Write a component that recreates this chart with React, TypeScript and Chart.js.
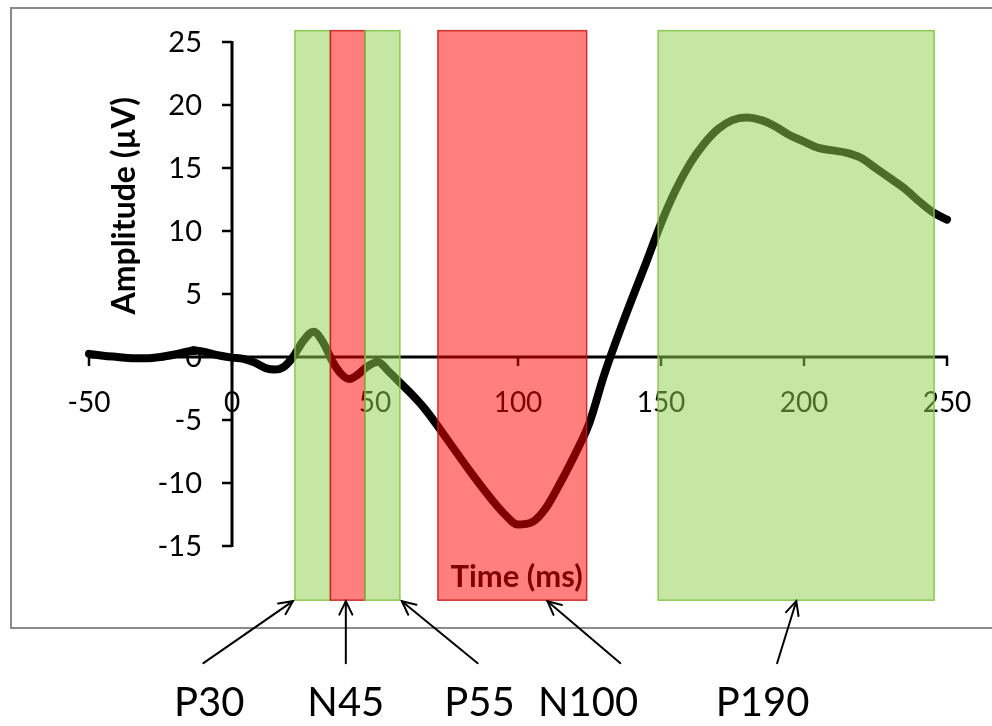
import React, { useEffect, useRef } from 'react';
import { Chart, registerables } from 'chart.js';

Chart.register(...registerables);

// ---- data ----
const timeMs = [
  -50, -45, -40, -35, -30, -25, -20, -15, -12, -8, -4, 0, 4, 8, 12, 15, 18, 21, 25, 28.5, 32, 35, 38, 41, 44, 47,
  51, 55, 59, 63, 67, 72, 77, 83, 89, 95, 100, 105, 110, 115, 120, 125, 130, 135, 140, 145, 150, 155, 160, 165,
  170, 175, 180, 185, 190, 195, 200, 205, 210, 215, 220, 225, 230, 235, 240, 245, 250,
];
const amplitudeUV = [
  0.25, 0.1, 0.0, -0.1, -0.1, 0.0, 0.2, 0.45, 0.5, 0.3, 0.1, -0.05, -0.15, -0.45, -0.9, -1.0, -0.8, -0.1, 1.3, 2.0,
  1.1, -0.3, -1.3, -1.75, -1.4, -0.8, -0.4, -1.2, -2.1, -3.0, -4.0, -5.5, -7.1, -9.0, -10.8, -12.4, -13.3, -13.1,
  -11.9, -9.9, -7.7, -5.2, -1.5, 1.7, 4.7, 7.6, 10.6, 13.2, 15.3, 16.9, 18.1, 18.8, 19.0, 18.8, 18.3, 17.6, 17.1,
  16.6, 16.4, 16.2, 15.8, 15.0, 14.2, 13.4, 12.4, 11.5, 10.9,
];
const xTickValues = [-50, 0, 50, 100, 150, 200, 250];
const yTickValues = [-15, -10, -5, 0, 5, 10, 15, 20, 25];

const componentNames = ['P30', 'N45', 'P55', 'N100', 'P190'];
const windowStart = [22, 34.4, 46.5, 72, 149];
const windowEnd = [34.4, 46.5, 58.7, 124, 245.5];
const windowPolarity = ['pos', 'neg', 'pos', 'neg', 'pos'];
const windowTop = 25.9;
const windowBottom = -19.3;
const labelCenterX = [-8, 39.8, 86.5, 124.5, 185.5];
const arrowTailX = [-10, 39.8, 85.9, 135.8, 190.6];
const arrowTipX = [21.3, 39.8, 59.4, 110.3, 197.3];
const arrowTailY = -24.3;
const labelY = -27.45;

const yTitle = 'Amplitude (µV)';
const xTitle = 'Time (ms)';

const FONT = 'Lato, "Open Sans", sans-serif';

const overlayPlugin = {
  id: 'erpOverlay',
  beforeDraw(chart: any) {
    const ctx = chart.ctx;
    ctx.save();
    ctx.fillStyle = '#ffffff';
    ctx.fillRect(0, 0, chart.width, chart.height);
    ctx.strokeStyle = '#8a8a8a';
    ctx.lineWidth = 2;
    ctx.strokeRect(11, 8, chart.width + 20, 620);
    ctx.restore();
  },
  beforeDatasetsDraw(chart: any) {
    const ctx = chart.ctx;
    const xs = chart.scales.x;
    const ys = chart.scales.y;
    const x0 = xs.getPixelForValue(0);
    const y0 = ys.getPixelForValue(0);
    ctx.save();
    ctx.strokeStyle = '#000';
    ctx.fillStyle = '#000';
    // y axis
    ctx.lineWidth = 3;
    ctx.beginPath();
    ctx.moveTo(x0, ys.getPixelForValue(yTickValues[yTickValues.length - 1]) - 1);
    ctx.lineTo(x0, ys.getPixelForValue(yTickValues[0]) + 1);
    ctx.stroke();
    ctx.lineWidth = 2.5;
    ctx.font = `29px ${FONT}`;
    ctx.textAlign = 'right';
    ctx.textBaseline = 'middle';
    for (const v of yTickValues) {
      const py = ys.getPixelForValue(v);
      ctx.beginPath();
      ctx.moveTo(x0 - 10, py);
      ctx.lineTo(x0, py);
      ctx.stroke();
      ctx.fillText(String(v), x0 - 30, py + 1);
    }
    // x axis
    ctx.lineWidth = 3;
    ctx.beginPath();
    ctx.moveTo(xs.getPixelForValue(xTickValues[0]) - 1, y0);
    ctx.lineTo(xs.getPixelForValue(xTickValues[xTickValues.length - 1]) + 1, y0);
    ctx.stroke();
    ctx.lineWidth = 2.5;
    ctx.textAlign = 'center';
    ctx.font = `28px ${FONT}`;
    for (const v of xTickValues) {
      const px = xs.getPixelForValue(v);
      ctx.beginPath();
      ctx.moveTo(px, y0);
      ctx.lineTo(px, y0 + 9);
      ctx.stroke();
      ctx.fillText(String(v), px, y0 + 46);
    }
    ctx.restore();

    ctx.save();
    ctx.fillStyle = '#000';
    ctx.font = `bold 32px ${FONT}`;
    ctx.textAlign = 'center';
    ctx.textBaseline = 'middle';
    ctx.translate(xs.getPixelForValue(-37.5), ys.getPixelForValue(12));
    ctx.rotate(-Math.PI / 2);
    ctx.fillText(yTitle, 0, 0);
    ctx.restore();
    ctx.save();
    ctx.fillStyle = '#000';
    ctx.font = `bold 31px ${FONT}`;
    ctx.textAlign = 'center';
    ctx.textBaseline = 'middle';
    ctx.fillText(xTitle, xs.getPixelForValue(99.5), ys.getPixelForValue(-17.45));
    ctx.restore();
  },
  afterDatasetsDraw(chart: any) {
    const ctx = chart.ctx;
    const xs = chart.scales.x;
    const ys = chart.scales.y;
    const top = ys.getPixelForValue(windowTop);
    const bottom = ys.getPixelForValue(windowBottom);
    ctx.save();
    for (let i = 0; i < windowStart.length; i++) {
      const l = xs.getPixelForValue(windowStart[i]);
      const r = xs.getPixelForValue(windowEnd[i]);
      const pos = windowPolarity[i] === 'pos';
      ctx.fillStyle = pos ? 'rgba(146,208,80,0.52)' : 'rgba(255,0,0,0.5)';
      ctx.fillRect(l, top, r - l, bottom - top);
      ctx.strokeStyle = pos ? 'rgba(130,195,70,0.9)' : 'rgba(200,20,20,0.85)';
      ctx.lineWidth = 1.5;
      ctx.strokeRect(l, top, r - l, bottom - top);
    }
    ctx.restore();
  },
  afterDraw(chart: any) {
    const ctx = chart.ctx;
    const xs = chart.scales.x;
    const ys = chart.scales.y;
    const tipY = ys.getPixelForValue(windowBottom);
    const tailY = ys.getPixelForValue(arrowTailY);
    ctx.save();
    ctx.strokeStyle = '#000';
    ctx.lineWidth = 2;
    ctx.lineCap = 'round';
    for (let i = 0; i < componentNames.length; i++) {
      const x0 = xs.getPixelForValue(arrowTailX[i]);
      const x1 = xs.getPixelForValue(arrowTipX[i]);
      ctx.beginPath();
      ctx.moveTo(x0, tailY);
      ctx.lineTo(x1, tipY + 1);
      ctx.stroke();
      const ang = Math.atan2(tipY + 1 - tailY, x1 - x0);
      const hl = 15;
      const spread = 0.45;
      ctx.beginPath();
      ctx.moveTo(x1 - hl * Math.cos(ang - spread), tipY + 1 - hl * Math.sin(ang - spread));
      ctx.lineTo(x1, tipY + 1);
      ctx.lineTo(x1 - hl * Math.cos(ang + spread), tipY + 1 - hl * Math.sin(ang + spread));
      ctx.stroke();
    }
    ctx.fillStyle = '#000';
    ctx.font = `40px ${FONT}`;
    ctx.textAlign = 'center';
    ctx.textBaseline = 'middle';
    for (let i = 0; i < componentNames.length; i++) {
      ctx.fillText(componentNames[i], xs.getPixelForValue(labelCenterX[i]), ys.getPixelForValue(labelY));
    }
    ctx.restore();
  },
};

export default function App() {
  const canvasRef = useRef<HTMLCanvasElement | null>(null);

  useEffect(() => {
    const canvas = canvasRef.current;
    if (!canvas) return;
    const chart = new Chart(canvas, {
      type: 'line',
      data: {
        datasets: [
          {
            label: 'ERP',
            data: timeMs.map((t, i) => ({ x: t, y: amplitudeUV[i] })),
            borderColor: '#000000',
            borderWidth: 8,
            pointRadius: 0,
            tension: 0.4,
            cubicInterpolationMode: 'monotone',
            borderCapStyle: 'round',
            borderJoinStyle: 'round',
            fill: false,
            clip: false,
          } as any,
        ],
      },
      options: {
        responsive: false,
        animation: false,
        devicePixelRatio: 1,
        layout: { padding: { left: 89, right: 45, top: 42, bottom: 180 } },
        plugins: { legend: { display: false }, tooltip: { enabled: false }, title: { display: false } },
        scales: {
          x: { type: 'linear', min: -50, max: 250, display: false },
          y: { type: 'linear', min: -15, max: 25, display: false },
        },
      },
      plugins: [overlayPlugin],
    });
    return () => chart.destroy();
  }, []);

  return (
    <div style={{ position: 'fixed', left: 0, top: 0, width: 992, height: 726, background: '#fff' }}>
      <canvas ref={canvasRef} width={992} height={726} style={{ width: 992, height: 726, display: 'block' }} />
    </div>
  );
}
